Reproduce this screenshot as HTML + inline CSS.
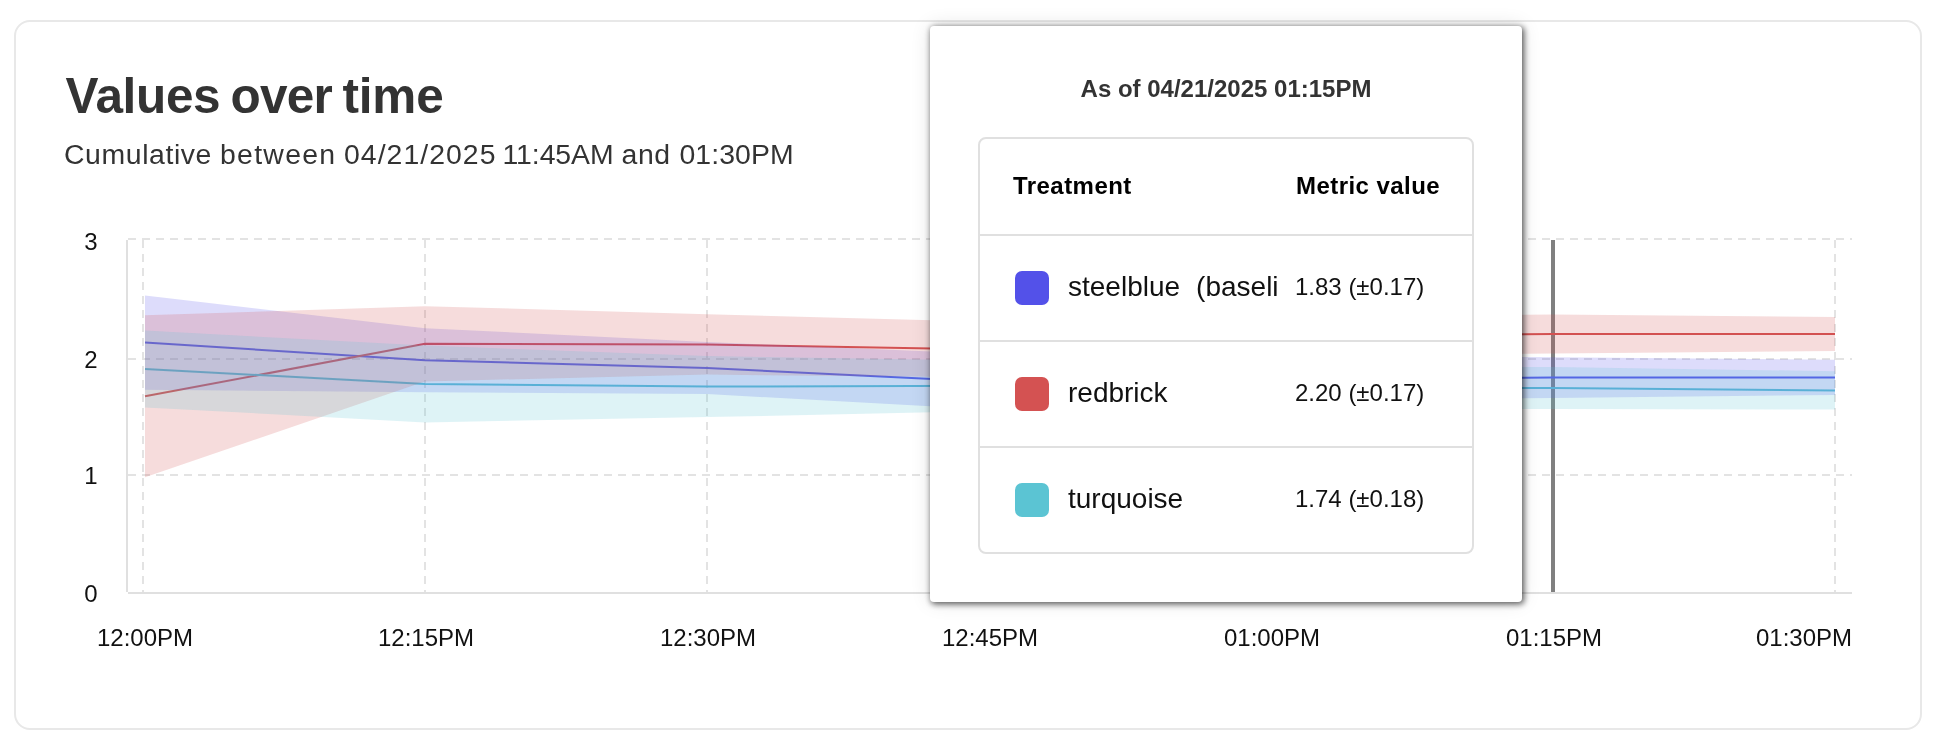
<!DOCTYPE html>
<html>
<head>
<meta charset="utf-8">
<style>
html,body{margin:0;padding:0;background:#fff;}
body{width:1944px;height:750px;position:relative;overflow:hidden;-webkit-font-smoothing:antialiased;font-family:"Liberation Sans",sans-serif;}
.card{position:absolute;left:14px;top:20px;width:1904px;height:706px;border:2px solid #e8e8e8;border-radius:16px;background:#fff;}
.title{position:absolute;left:64px;top:65.5px;width:400px;height:60px;font-size:49.5px;font-weight:bold;color:#333;white-space:nowrap;line-height:60px;}
.title span{position:absolute;top:0;}
.sub{position:absolute;left:64px;top:136px;width:760px;height:36px;font-size:28.4px;color:#333;white-space:nowrap;line-height:36px;}
.sub span{position:absolute;top:0;}
svg.chart{position:absolute;left:0;top:0;}
.title,.sub,svg.chart,.tiph,.hd,.nm,.val{will-change:transform;}
.tip{position:absolute;left:930px;top:26px;width:592px;height:576px;background:#fff;border-radius:4px;box-shadow:1.5px 1.5px 6px rgba(0,0,0,0.65),0 0 20px rgba(0,0,0,0.12);}
.tiph{position:absolute;left:0;width:592px;top:48px;text-align:center;font-size:24px;font-weight:bold;color:#333;line-height:30px;}
.tbl{position:absolute;left:48px;top:111px;width:492px;height:413px;border:2px solid #e0e0e0;border-radius:8px;}
.row{position:absolute;left:0;width:492px;height:104px;border-top:2px solid #e0e0e0;}
.hd{position:absolute;font-size:24px;font-weight:bold;color:#000;line-height:30px;white-space:nowrap;letter-spacing:0.45px;}
.sw{position:absolute;left:35px;top:35px;width:34px;height:34px;border-radius:7px;}
.nm{position:absolute;left:88px;top:34px;font-size:28px;color:#111;line-height:34px;white-space:nowrap;}
.val{position:absolute;left:315px;top:36px;font-size:24px;color:#111;line-height:30px;white-space:nowrap;}
</style>
</head>
<body>
<div class="card"></div>
<div class="title"><span style="left:1.5px;letter-spacing:-0.35px">Values</span><span style="left:166.5px;letter-spacing:-0.75px">over</span><span style="left:278.5px;letter-spacing:-0.2px">time</span></div>
<div class="sub"><span style="left:0px;letter-spacing:0.6px">Cumulative</span><span style="left:156px;letter-spacing:1.3px">between</span><span style="left:280px;letter-spacing:1.04px">04/21/2025</span><span style="left:438.5px;letter-spacing:-0.07px">11:45AM</span><span style="left:557.5px;letter-spacing:0.6px">and</span><span style="left:615.5px;letter-spacing:0.07px">01:30PM</span></div>
<svg class="chart" width="1944" height="750" viewBox="0 0 1944 750">
<g stroke="#e3e3e3" stroke-width="2" stroke-dasharray="8 6" fill="none">
<line x1="128" y1="239" x2="1852" y2="239"/>
<line x1="128" y1="359" x2="1852" y2="359"/>
<line x1="128" y1="475" x2="1852" y2="475"/>
<line x1="143" y1="240" x2="143" y2="592"/>
<line x1="425" y1="240" x2="425" y2="592"/>
<line x1="707" y1="240" x2="707" y2="592"/>
<line x1="989" y1="240" x2="989" y2="592"/>
<line x1="1271" y1="240" x2="1271" y2="592"/>
<line x1="1553" y1="240" x2="1553" y2="592"/>
<line x1="1835" y1="240" x2="1835" y2="592"/>
</g>
<rect x="1551" y="240" width="4" height="352" fill="#808080"/>
<polyline points="145,342.6 425,360.2 707,368 989,381.8 1271,378.3 1553,377.6 1835,377.4" fill="none" stroke="#5351E9" stroke-width="2"/>
<polyline points="145,396.3 425,343.8 707,344.4 989,349.55 1271,335.5 1553,334 1835,334" fill="none" stroke="#D45252" stroke-width="2"/>
<polyline points="145,369 425,384 707,386.6 989,385.85 1271,388 1553,388 1835,390.4" fill="none" stroke="#5BC4D3" stroke-width="2"/>
<polygon points="145,295.4 425,328.2 707,342.0 989,354.1 1271,356.3 1553,357.2 1835,359.8 1835,395.0 1553,398.0 1271,400.3 989,409.5 707,394.0 425,392.2 145,389.8" fill="#5351E9" fill-opacity="0.2"/>
<polygon points="145,315.3 425,306.2 707,314.2 989,321.8 1271,315.0 1553,314.6 1835,317.0 1835,351.0 1553,353.4 1271,356.0 989,377.3 707,374.6 425,381.4 145,477.3" fill="#D45252" fill-opacity="0.2"/>
<polygon points="145,330.6 425,345.6 707,356.1 989,360.6 1271,366.0 1553,367.0 1835,371.2 1835,409.6 1553,409.0 1271,410.0 989,411.1 707,417.1 425,422.4 145,407.4" fill="#5BC4D3" fill-opacity="0.2"/>
<rect x="126" y="240" width="2" height="352" fill="#e0e0e0"/>
<rect x="128" y="592" width="1724" height="2" fill="#e0e0e0"/>
<g font-family="Liberation Sans" font-size="24" fill="#111" text-anchor="end">
<text x="97.5" y="250.2">3</text>
<text x="97.5" y="367.9">2</text>
<text x="97.5" y="483.9">1</text>
<text x="97.5" y="602">0</text>
</g>
<g font-family="Liberation Sans" font-size="24" fill="#111" text-anchor="middle">
<text x="145" y="646">12:00PM</text>
<text x="426" y="646">12:15PM</text>
<text x="708" y="646">12:30PM</text>
<text x="990" y="646">12:45PM</text>
<text x="1272" y="646">01:00PM</text>
<text x="1554" y="646">01:15PM</text>
<text x="1852" y="646" text-anchor="end">01:30PM</text>
</g>
</svg>
<div class="tip">
  <div class="tiph">As of 04/21/2025 01:15PM</div>
  <div class="tbl">
    <div class="hd" style="left:33px;top:32px">Treatment</div>
    <div class="hd" style="left:315.5px;top:32px">Metric value</div>
    <div class="row" style="top:95px">
      <div class="sw" style="background:#5351E9"></div>
      <div class="nm">steelblue<span style="margin-left:16px">(baseli</span></div>
      <div class="val">1.83 (±0.17)</div>
    </div>
    <div class="row" style="top:201px">
      <div class="sw" style="background:#D45252"></div>
      <div class="nm">redbrick</div>
      <div class="val">2.20 (±0.17)</div>
    </div>
    <div class="row" style="top:307px">
      <div class="sw" style="background:#5BC4D3"></div>
      <div class="nm">turquoise</div>
      <div class="val">1.74 (±0.18)</div>
    </div>
  </div>
</div>
</body>
</html>
